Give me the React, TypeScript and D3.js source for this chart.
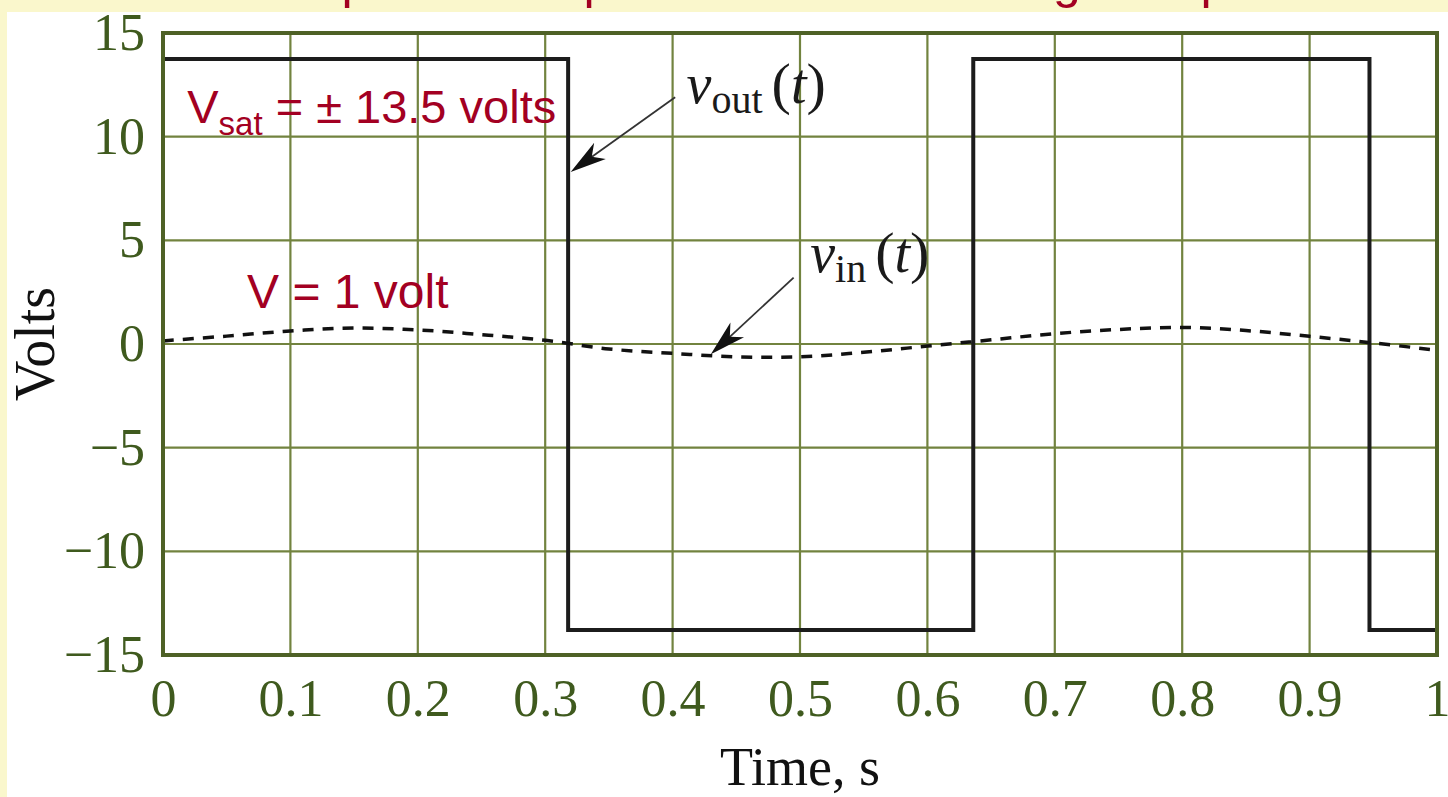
import React, { useEffect, useRef } from "react";
import * as d3 from "d3";

// axis ticks
const xTicks = [0, 0.1, 0.2, 0.3, 0.4, 0.5, 0.6, 0.7, 0.8, 0.9, 1];
const yTicks = [-15, -10, -5, 0, 5, 10, 15];

// comparator output: switching instants and saturated levels
const switchTimes = [0, 0.318, 0.636, 0.947];
const outLevels = [13.75, -13.8, 13.75, -13.8];

// input sine
const vinTimes = [0, 0.05, 0.1, 0.15, 0.2, 0.25, 0.3, 0.35, 0.4, 0.45, 0.5, 0.55, 0.6, 0.65, 0.7, 0.75, 0.8, 0.85, 0.9, 0.95, 1];
const vinValues = [0.15, 0.38, 0.63, 0.77, 0.68, 0.45, 0.18, -0.24, -0.45, -0.62, -0.62, -0.4, -0.1, 0.2, 0.5, 0.7, 0.8, 0.65, 0.37, 0.05, -0.3];

const W = 1448;
const H = 797;

const serif = "'Liberation Serif', 'Times New Roman', serif";
const sans = "'Liberation Sans', Arial, sans-serif";
const red = "#a30022";
const olive = "#3f5a1e";

export default function App() {
	const ref = useRef<SVGSVGElement>(null);

	useEffect(() => {
		const svg = d3.select(ref.current);
		svg.selectAll("*").remove();

		const x = d3.scaleLinear().domain([0, 1]).range([163, 1437]);
		const y = d3.scaleLinear().domain([-15, 15]).range([655, 33]);

		// slide background
		svg.append("rect").attr("width", W).attr("height", H).attr("fill", "#faf7cc");
		svg.append("rect").attr("x", 7).attr("y", 12).attr("width", W - 7).attr("height", H - 12).attr("fill", "#ffffff");

		// title line cut off by the top of the picture, only descenders show
		svg
			.append("text")
			.attr("x", 236)
			.attr("y", -2)
			.style("font-family", sans)
			.style("font-size", "50px")
			.attr("fill", red)
			.text("Comparator output for a sinusoidal signal input");

		// grid
		const grid = svg.append("g").attr("stroke", "#72833f").attr("stroke-width", 2.2);
		grid
			.selectAll(".vgrid")
			.data(xTicks)
			.enter()
			.append("line")
			.attr("x1", d => x(d))
			.attr("x2", d => x(d))
			.attr("y1", y(-15))
			.attr("y2", y(15));
		grid
			.selectAll(".hgrid")
			.data(yTicks)
			.enter()
			.append("line")
			.attr("x1", x(0))
			.attr("x2", x(1))
			.attr("y1", d => y(d))
			.attr("y2", d => y(d));

		// vout step line
		const outPts: [number, number][] = switchTimes.map((t, i) => [t, outLevels[i]]);
		outPts.push([1, outLevels[outLevels.length - 1]]);
		const stepLine = d3
			.line<[number, number]>()
			.x(d => x(d[0]))
			.y(d => y(d[1]))
			.curve(d3.curveStepAfter);
		svg
			.append("path")
			.attr("d", stepLine(outPts))
			.attr("fill", "none")
			.attr("stroke", "#1c1c1c")
			.attr("stroke-width", 4);

		// vin dashed curve
		const vinPts: [number, number][] = vinTimes.map((t, i) => [t, vinValues[i]]);
		const sineLine = d3
			.line<[number, number]>()
			.x(d => x(d[0]))
			.y(d => y(d[1]))
			.curve(d3.curveCatmullRom);
		svg
			.append("path")
			.attr("d", sineLine(vinPts))
			.attr("fill", "none")
			.attr("stroke", "#111")
			.attr("stroke-width", 3.5)
			.attr("stroke-dasharray", "11,9");

		// plot frame
		svg
			.append("rect")
			.attr("x", x(0))
			.attr("y", y(15))
			.attr("width", x(1) - x(0))
			.attr("height", y(-15) - y(15))
			.attr("fill", "none")
			.attr("stroke", "#4e6126")
			.attr("stroke-width", 4);

		// axes labels
		const xAxis = d3
			.axisBottom(x)
			.tickValues(xTicks)
			.tickSize(0)
			.tickPadding(24)
			.tickFormat(d3.format(""));
		const gx = svg.append("g").attr("transform", `translate(0,${y(-15)})`).call(xAxis);
		gx.select(".domain").remove();
		gx.selectAll("text").style("font-family", serif).style("font-size", "52px").attr("fill", olive);

		const yAxis = d3
			.axisLeft(y)
			.tickValues(yTicks)
			.tickSize(0)
			.tickPadding(18)
			.tickFormat(d3.format(""));
		const gy = svg.append("g").attr("transform", `translate(${x(0)},0)`).call(yAxis);
		gy.select(".domain").remove();
		gy.selectAll("text").style("font-family", serif).style("font-size", "52px").attr("fill", olive);

		svg
			.append("text")
			.attr("x", x(0.5))
			.attr("y", 785)
			.attr("text-anchor", "middle")
			.style("font-family", serif)
			.style("font-size", "54px")
			.attr("fill", "#111")
			.text("Time, s");

		svg
			.append("text")
			.attr("transform", `translate(54,${y(0)}) rotate(-90)`)
			.attr("text-anchor", "middle")
			.style("font-family", serif)
			.style("font-size", "56px")
			.attr("fill", "#111")
			.text("Volts");

		// arrows pointing at the curves
		const arrows = [
			{ from: [0.402, 11.9], to: [0.32, 8.3] },
			{ from: [0.495, 3.2], to: [0.43, -0.5] }
		];
		arrows.forEach(a => {
			const sx = x(a.from[0]);
			const sy = y(a.from[1]);
			const ex = x(a.to[0]);
			const ey = y(a.to[1]);
			const len = Math.hypot(ex - sx, ey - sy);
			const ux = (ex - sx) / len;
			const uy = (ey - sy) / len;
			const nx = -uy;
			const ny = ux;
			const L = 36;
			const w = 10;
			svg
				.append("line")
				.attr("x1", sx)
				.attr("y1", sy)
				.attr("x2", ex - ux * 24)
				.attr("y2", ey - uy * 24)
				.attr("stroke", "#333")
				.attr("stroke-width", 1.8);
			const head = [
				[ex, ey],
				[ex - ux * L + nx * w, ey - uy * L + ny * w],
				[ex - ux * L * 0.72, ey - uy * L * 0.72],
				[ex - ux * L - nx * w, ey - uy * L - ny * w]
			];
			svg
				.append("path")
				.attr("d", "M" + head.map(p => p.join(",")).join("L") + "Z")
				.attr("fill", "#111");
		});

		// curve names
		const curveLabel = (tx: number, vy: number, sub: string) => {
			const t = svg
				.append("text")
				.attr("x", x(tx))
				.attr("y", y(vy))
				.style("font-family", serif)
				.attr("fill", "#1a1a1a");
			t.append("tspan").style("font-style", "italic").style("font-size", "56px").text("v");
			t.append("tspan").style("font-size", "40px").attr("dy", 10).text(sub);
			t.append("tspan").style("font-size", "58px").attr("dy", -10).attr("dx", 9).text("(");
			t.append("tspan").style("font-style", "italic").style("font-size", "56px").text("t");
			t.append("tspan").style("font-size", "58px").text(")");
		};
		curveLabel(0.411, 11.63, "out");
		curveLabel(0.508, 3.46, "in");

		// red annotations
		const sat = svg
			.append("text")
			.attr("x", x(0.019))
			.attr("y", y(10.67))
			.style("font-family", sans)
			.style("font-size", "47px")
			.attr("fill", red);
		sat.append("tspan").text("V");
		sat.append("tspan").style("font-size", "33px").attr("dy", 12).text("sat");
		sat.append("tspan").attr("dy", -12).text(" = ± 13.5 volts");

		svg
			.append("text")
			.attr("x", x(0.066))
			.attr("y", y(1.73))
			.style("font-family", sans)
			.style("font-size", "48px")
			.attr("fill", red)
			.text("V = 1 volt");
	}, []);

	return <svg ref={ref} width={W} height={H} style={{ position: "absolute", left: 0, top: 0 }} />;
}
